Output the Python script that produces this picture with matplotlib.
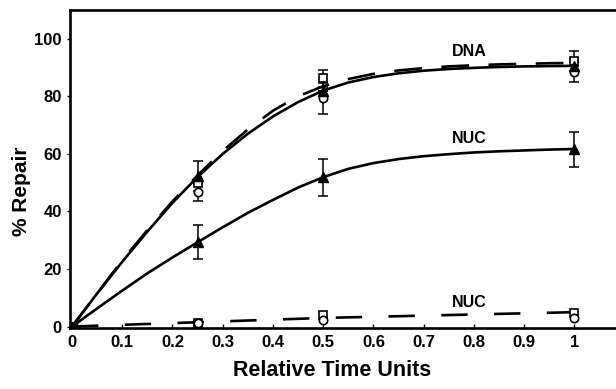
import matplotlib.pyplot as plt

plt.rcParams['font.family'] = ['Liberation Sans', 'DejaVu Sans']
plt.rcParams['font.weight'] = 'bold'
plt.rcParams['lines.scale_dashes'] = False

# measured points (relative time, % repair, error)
t_pts = [0, 0.25, 0.5, 1.0]

dna_tri = [0, 52.3, 81.8, 90.5]
dna_tri_err = [0, 5.2, 0, 0]
dna_sq = [0, 49.8, 86.2, 92.2]
dna_sq_err = [0, 0, 3.0, 3.5]
dna_circ = [0, 46.8, 79.3, 88.4]
dna_circ_err = [0, 3.2, 5.3, 3.5]

nuc_tri = [0, 29.3, 51.9, 61.6]
nuc_tri_err = [0, 5.9, 6.4, 6.0]
nuc_sq = [0, 1.4, 3.9, 4.6]
nuc_circ = [0, 1.2, 2.3, 3.0]

# fitted curves
t_fit = [0, 0.05, 0.1, 0.15, 0.2, 0.25, 0.3, 0.35, 0.4, 0.45, 0.5,
         0.55, 0.6, 0.65, 0.7, 0.75, 0.8, 0.85, 0.9, 0.95, 1.0]
dna_solid = [0, 11.5, 22.5, 33, 43, 52, 60, 67, 73, 78, 82,
             84.8, 86.7, 88, 88.9, 89.5, 89.9, 90.2, 90.4, 90.5, 90.6]
dna_dash = [0, 11.5, 23, 33.5, 43.5, 52.5, 61, 68.5, 75, 80, 83.5,
            86, 87.8, 89, 89.8, 90.4, 90.8, 91.1, 91.3, 91.5, 91.6]
nuc_solid = [0, 6.3, 12.5, 18.5, 24, 29.3, 34.5, 39.5, 44, 48.3, 51.9,
             54.8, 56.8, 58.2, 59.2, 59.9, 60.5, 60.9, 61.2, 61.5, 61.7]
nuc_dash = [0, 0.3, 0.6, 0.9, 1.2, 1.5, 1.8, 2.1, 2.4, 2.7, 3.0,
            3.2, 3.4, 3.6, 3.8, 4.0, 4.2, 4.4, 4.6, 4.8, 5.0]

x_ticks = [0, 0.1, 0.2, 0.3, 0.4, 0.5, 0.6, 0.7, 0.8, 0.9, 1]
x_tick_labels = ['0', '0.1', '0.2', '0.3', '0.4', '0.5', '0.6', '0.7', '0.8', '0.9', '1']
y_ticks = [0, 20, 40, 60, 80, 100]

fig = plt.figure(figsize=(6.16, 3.89), dpi=100)
ax = fig.add_axes([70 / 616, 1 - 328 / 389, 546 / 616, 318 / 389])

lw = 1.9
ax.plot(t_fit, dna_solid, color='black', lw=lw)
ax.plot(t_fit, dna_dash, color='black', lw=lw, dashes=(20, 14))
ax.plot(t_fit, nuc_solid, color='black', lw=lw)
ax.plot(t_fit, nuc_dash, color='black', lw=lw, dashes=(19, 19))

eb = dict(fmt='none', ecolor='black', elinewidth=1.1, capsize=3.5, capthick=1.1)
ax.errorbar(t_pts, dna_sq, yerr=dna_sq_err, **eb)
ax.errorbar(t_pts, dna_circ, yerr=dna_circ_err, **eb)
ax.errorbar(t_pts, dna_tri, yerr=dna_tri_err, **eb)
ax.errorbar(t_pts, nuc_tri, yerr=nuc_tri_err, **eb)

ax.plot(t_pts, dna_sq, 's', ms=6, mfc='white', mec='black', mew=1.2)
ax.plot(t_pts, dna_circ, 'o', ms=6, mfc='white', mec='black', mew=1.2)
ax.plot(t_pts, dna_tri, '^', ms=7, color='black')
ax.plot(t_pts, nuc_tri, '^', ms=7, color='black')
ax.plot(t_pts, nuc_sq, 's', ms=6, mfc='white', mec='black', mew=1.2)
ax.plot(t_pts, nuc_circ, 'o', ms=6, mfc='white', mec='black', mew=1.2)
ax.plot([0], [0], 's', ms=7, color='black')

ax.text(0.79, 95.5, 'DNA', fontsize=11.5, fontweight='bold', ha='center', va='center')
ax.text(0.79, 65.5, 'NUC', fontsize=11.5, fontweight='bold', ha='center', va='center')
ax.text(0.79, 8.3, 'NUC', fontsize=11.5, fontweight='bold', ha='center', va='center')

ax.set_xlim(-0.004, 1.083)
ax.set_ylim(-0.5, 110)
ax.set_xticks(x_ticks)
ax.set_xticklabels(x_tick_labels)
ax.set_yticks(y_ticks)
ax.tick_params(axis='x', direction='in', length=3, width=1, labelsize=12, pad=5)
ax.tick_params(axis='y', direction='out', length=2, width=1, labelsize=12, pad=4)

for side in ['left', 'top', 'bottom']:
    ax.spines[side].set_linewidth(1.9)
ax.spines['right'].set_visible(False)

ax.set_xlabel('Relative Time Units', fontsize=15.5, fontweight='bold')
ax.xaxis.set_label_coords(0.48, -0.10)
ax.set_ylabel('% Repair', fontsize=15, fontweight='bold')
ax.yaxis.set_label_coords(-0.072, 0.43)

fig.savefig('out.png', dpi=100)
